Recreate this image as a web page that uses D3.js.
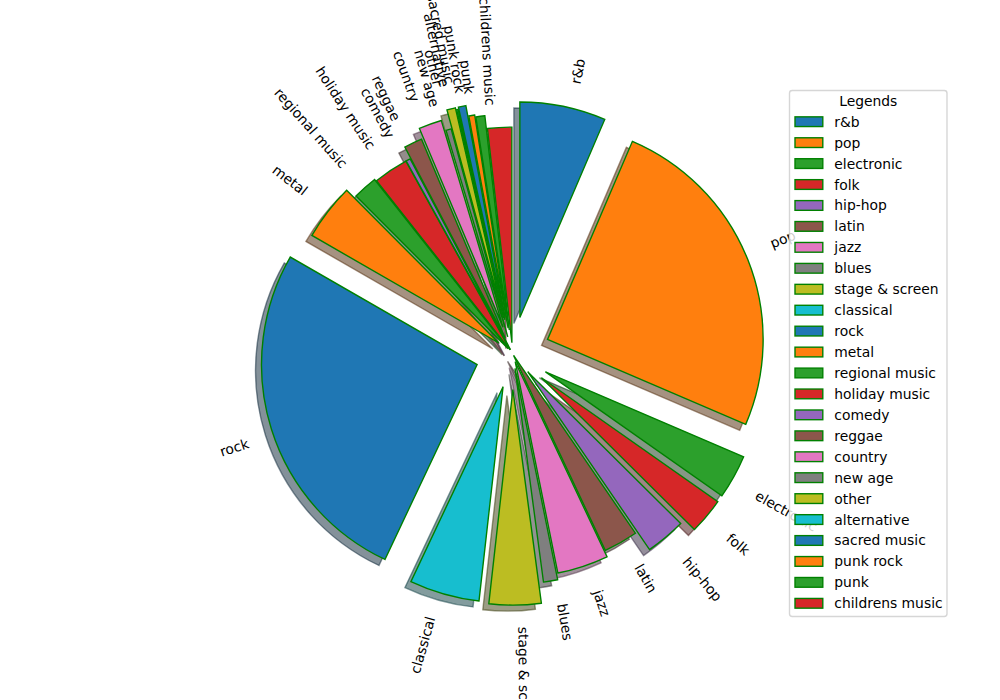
<!DOCTYPE html>
<html><head><meta charset="utf-8">
<script src="https://cdn.jsdelivr.net/npm/d3@7"></script>
<style>body{margin:0;background:#fff}svg{display:block}</style>
</head><body>
<svg id="c" width="1000" height="700"></svg>
<script>
const categories = ["r&b","pop","electronic","folk","hip-hop","latin","jazz","blues","stage & screen","classical","rock","metal","regional music","holiday music","comedy","reggae","country","new age","other","alternative","sacred music","punk rock","punk","childrens music"];
const counts = [644,2500,331,269,300,256,383,106,389,525,2628,422,183,261,33,136,172,39,64,11,56,44,67,181];
const explode = [0.17,0.175,0.175,0.175,0.11,0.01,0.04,0.07,0.167,0.16,0.172,0.08,0.03,0.02,0.02,0.08,0.13,0.08,0.17,0.16,0.17,0.12,0.11,0.05];
const palette = ["#1f77b4","#ff7f0e","#2ca02c","#d62728","#9467bd","#8c564b","#e377c2","#7f7f7f","#bcbd22","#17becf"];
const legendTitle = "Legends";

const svg = d3.select("#c");
const axLeft=125, axRight=900, axTop=84, axBottom=623;
const side = Math.min(axRight-axLeft, axBottom-axTop);
const cx=(axLeft+axRight)/2, cy=(axTop+axBottom)/2;
const xs = d3.scaleLinear().domain([-1.25,1.25]).range([cx-side/2, cx+side/2]);
const ys = d3.scaleLinear().domain([-1.25,1.25]).range([cy+side/2, cy-side/2]);
const R = xs(1)-xs(0);
const lw = 100/72;
const fontSize = 10*100/72;

const data = categories.map((c,i)=>({name:c, v:counts[i], e:explode[i], color:palette[i%10]}));
const pie = d3.pie().sort(null).value(d=>d.v).startAngle(0).endAngle(2*Math.PI);
const arcs = pie(data);
const arc = d3.arc().innerRadius(0).outerRadius(R);

arcs.forEach(a=>{
  const mid=(a.startAngle+a.endAngle)/2;
  a.thetam = Math.PI/2 - mid;
  a.ox = a.data.e*Math.cos(a.thetam);
  a.oy = a.data.e*Math.sin(a.thetam);
});

const shOff = 0.02*100/72;
function shade(col){const c=d3.rgb(col);return d3.rgb(c.r*0.3,c.g*0.3,c.b*0.3).toString();}

const gShadow = svg.append("g");
gShadow.selectAll("path").data(arcs).join("path")
  .attr("d",arc)
  .attr("transform",a=>`translate(${xs(a.ox-shOff)},${ys(a.oy-shOff)})`)
  .attr("fill",a=>shade(a.data.color)).attr("fill-opacity",0.5)
  .attr("stroke",a=>shade(a.data.color)).attr("stroke-opacity",0.5)
  .attr("stroke-width",lw);

const gW = svg.append("g");
gW.selectAll("path").data(arcs).join("path")
  .attr("d",arc)
  .attr("transform",a=>`translate(${xs(a.ox)},${ys(a.oy)})`)
  .attr("fill",a=>a.data.color)
  .attr("stroke","green").attr("stroke-width",lw).attr("stroke-linejoin","miter");

// rotated labels (matplotlib default rotation mode)
const gL = svg.append("g").attr("font-family","DejaVu Sans").attr("font-size",fontSize).attr("fill","#000");
arcs.forEach(a=>{
  const xt = a.ox + 1.1*Math.cos(a.thetam);
  const yt = a.oy + 1.1*Math.sin(a.thetam);
  const rot = a.thetam*180/Math.PI + (xt>0?0:180);
  const t = gL.append("text").text(a.data.name);
  const b = t.node().getBBox();
  const phi = -rot*Math.PI/180;
  const cs=Math.cos(phi), sn=Math.sin(phi);
  const pts=[[b.x,b.y],[b.x+b.width,b.y],[b.x,b.y+b.height],[b.x+b.width,b.y+b.height]].map(([px,py])=>[px*cs-py*sn, px*sn+py*cs]);
  const minX=d3.min(pts,p=>p[0]), maxX=d3.max(pts,p=>p[0]);
  const minY=d3.min(pts,p=>p[1]), maxY=d3.max(pts,p=>p[1]);
  const X=xs(xt), Y=ys(yt);
  const tx = xt>0 ? X-minX : X-maxX;
  const ty = yt>0 ? Y-maxY : Y-minY;
  t.attr("transform",`translate(${tx},${ty}) rotate(${-rot})`);
});

// legend
const lg = svg.append("g").attr("font-family","DejaVu Sans").attr("font-size",fontSize);
const lx0=789.5, lx1=947, ly0=90.5, ly1=616.5;
lg.append("rect").attr("x",lx0).attr("y",ly0).attr("width",lx1-lx0).attr("height",ly1-ly0)
  .attr("rx",2.8).attr("fill","#fff").attr("fill-opacity",0.8).attr("stroke","#cccccc").attr("stroke-width",lw).attr("stroke-opacity",0.8);
lg.append("text").attr("x",(lx0+lx1)/2).attr("y",100.7).attr("text-anchor","middle").attr("dominant-baseline","central").text(legendTitle);
const ly = d3.scaleLinear().domain([0,categories.length-1]).range([121.7,603.3]);
const items = lg.selectAll("g.it").data(data).join("g").attr("class","it").attr("transform",(d,i)=>`translate(0,${ly(i)})`);
items.append("rect").attr("x",795).attr("y",-4.86).attr("width",27.8).attr("height",9.72)
  .attr("fill",d=>d.color).attr("stroke","green").attr("stroke-width",lw);
items.append("text").attr("x",834.3).attr("y",0).attr("dominant-baseline","central").text(d=>d.name);
</script>
</body></html>
